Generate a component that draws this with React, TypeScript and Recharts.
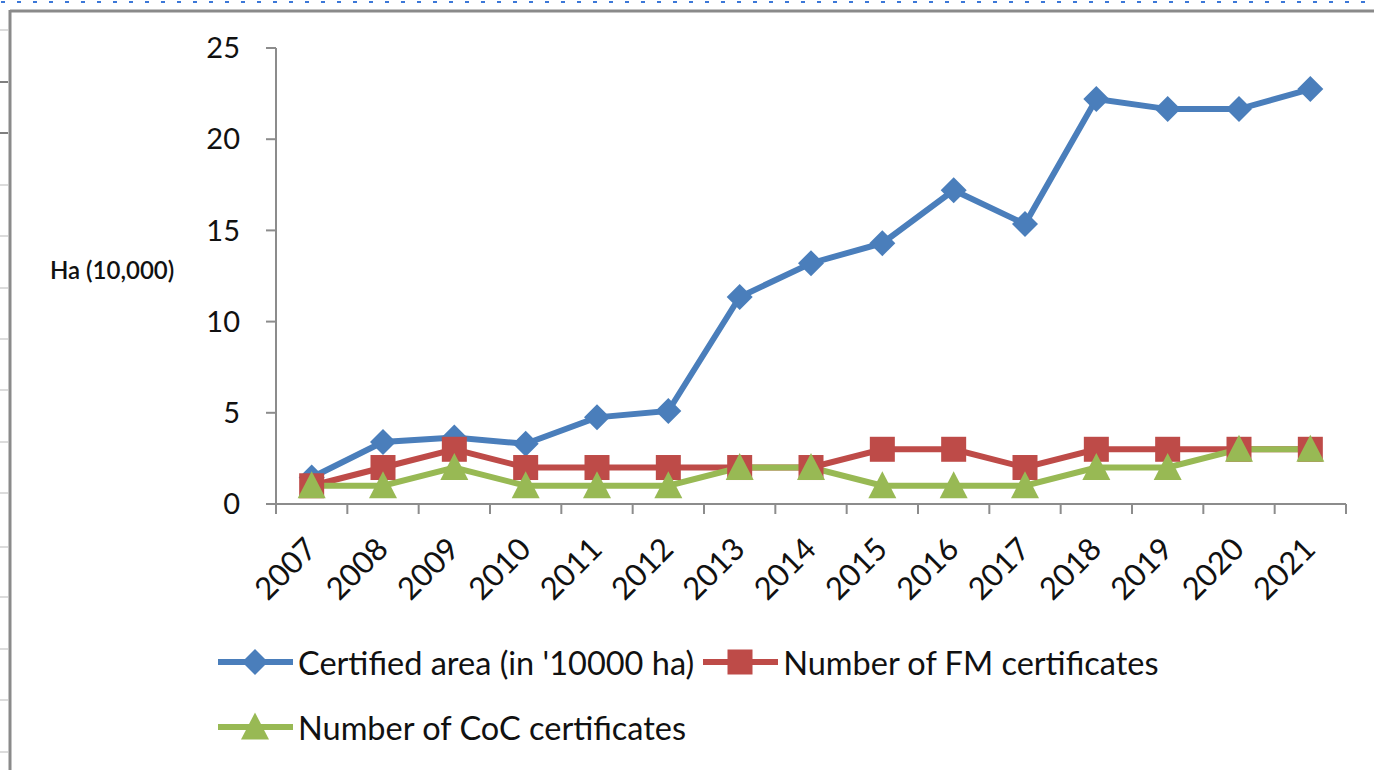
import React from 'react';
import { LineChart, Line, XAxis, YAxis, Legend } from 'recharts';

const years = ['2007', '2008', '2009', '2010', '2011', '2012', '2013', '2014', '2015', '2016', '2017', '2018', '2019', '2020', '2021'];
const certifiedArea = [1.45, 3.4, 3.65, 3.3, 4.75, 5.1, 11.35, 13.2, 14.3, 17.2, 15.35, 22.2, 21.65, 21.65, 22.75];
const fmCertificates = [1, 2, 3, 2, 2, 2, 2, 2, 3, 3, 2, 3, 3, 3, 3];
const cocCertificates = [1, 1, 2, 1, 1, 1, 2, 2, 1, 1, 1, 2, 2, 3, 3];
const yTicks = [0, 5, 10, 15, 20, 25];
const yLabel = 'Ha (10,000)';
const seriesNames = {
  area: "Certified area (in '10000 ha)",
  fm: 'Number of FM certificates',
  coc: 'Number of CoC certificates',
};

const data = years.map((y, i) => ({
  idx: i,
  year: y,
  area: certifiedArea[i],
  fm: fmCertificates[i],
  coc: cocCertificates[i],
}));

// tick positions: category centres (labels) and category boundaries (tick marks)
const xTicks: number[] = [];
for (let i = 0; i <= years.length; i++) {
  xTicks.push(i - 0.5);
  if (i < years.length) xTicks.push(i);
}

const BLUE = '#4A7EBB';
const RED = '#BE4B48';
const GREEN = '#98B954';
const FONT = 'Lato, "Open Sans", sans-serif';

const Marker = ({ cx, cy, type, fill }: any) => {
  if (type === 'diamond') {
    const r = 13;
    return <path d={`M${cx},${cy - r}L${cx + r},${cy}L${cx},${cy + r}L${cx - r},${cy}Z`} fill={fill} />;
  }
  if (type === 'square') {
    const s = 12.5;
    return <rect x={cx - s} y={cy - s} width={s * 2} height={s * 2} fill={fill} />;
  }
  const w = 14;
  const h = 25;
  return <path d={`M${cx},${cy - h / 2 - 2}L${cx + w},${cy + h / 2}L${cx - w},${cy + h / 2}Z`} fill={fill} />;
};

const series = [
  { key: 'area', color: BLUE, marker: 'diamond' },
  { key: 'fm', color: RED, marker: 'square' },
  { key: 'coc', color: GREEN, marker: 'triangle' },
];

const XTick = (props: any) => {
  const { x, y, payload } = props;
  const v = payload.value;
  if (Math.abs(v - Math.round(v)) > 0.01) {
    return <line x1={x} y1={y} x2={x} y2={y + 10} stroke="#8c8c8c" strokeWidth={2} />;
  }
  const label = years[Math.round(v)];
  const tx = x + 7;
  const ty = y + 47;
  return (
    <text x={tx} y={ty} textAnchor="end" transform={`rotate(-45, ${tx}, ${ty})`} fontSize={31} fontFamily={FONT} fill="#111">
      {label}
    </text>
  );
};

const renderLegend = (props: any) => {
  const payload = [...(props.payload || [])].sort(
    (a: any, b: any) => series.findIndex((s) => s.key === a.dataKey) - series.findIndex((s) => s.key === b.dataKey)
  );
  return (
    <div
      style={{
        width: 1374,
        height: 150,
        boxSizing: 'border-box',
        paddingLeft: 218,
        paddingTop: 32,
        display: 'flex',
        flexWrap: 'wrap',
        alignContent: 'flex-start',
        rowGap: 25,
      }}
    >
      {payload.map((entry: any) => {
        const s = series.find((d) => d.key === entry.dataKey) || series[0];
        return (
          <div key={entry.dataKey} style={{ display: 'flex', alignItems: 'center', height: 40, marginRight: 9 }}>
            <svg width={75} height={30} style={{ overflow: 'visible' }}>
              <line x1={0} y1={15} x2={75} y2={15} stroke={s.color} strokeWidth={6} />
              <Marker cx={37} cy={15} type={s.marker} fill={s.color} />
            </svg>
            <span style={{ marginLeft: 5, fontSize: 32.5, fontFamily: FONT, color: '#111', whiteSpace: 'nowrap' }}>
              {entry.value}
            </span>
          </div>
        );
      })}
    </div>
  );
};

const leftMarks = [30, 82, 133, 185, 236, 288, 339, 390, 442, 493, 547, 597, 649, 700, 752];

export default function App() {
  const dashes: number[] = [];
  for (let x = 1; x < 1374; x += 16) dashes.push(x);
  return (
    <div style={{ position: 'absolute', left: 0, top: 0, width: 1374, height: 770, background: '#fff', overflow: 'hidden' }}>
      <svg width={1374} height={770} style={{ position: 'absolute', left: 0, top: 0 }}>
        {dashes.map((x) => (
          <line key={x} x1={x} y1={2} x2={x + 4} y2={2} stroke="#3C78D8" strokeWidth={2} />
        ))}
        {leftMarks.map((y, i) => (
          <line key={y} x1={0} y1={y} x2={8} y2={y} stroke={i === 1 || i === 2 ? '#555' : '#d0d0d0'} strokeWidth={1.5} />
        ))}
        <line x1={10} y1={11} x2={1374} y2={11} stroke="#8a8a8a" strokeWidth={3} />
        <line x1={10} y1={10} x2={10} y2={770} stroke="#8a8a8a" strokeWidth={3} />
      </svg>
      <div style={{ position: 'absolute', left: 0, top: 0 }}>
        <LineChart width={1374} height={770} data={data} margin={{ top: 48, right: 28, left: 10, bottom: 10 }}>
          <XAxis
            dataKey="idx"
            type="number"
            domain={[-0.5, years.length - 0.5]}
            ticks={xTicks}
            interval={0}
            tickSize={0}
            tickMargin={0}
            tickLine={false}
            tick={<XTick />}
            height={106}
            axisLine={{ stroke: '#8c8c8c', strokeWidth: 2 }}
          />
          <YAxis
            domain={[0, 25]}
            ticks={yTicks}
            interval={0}
            width={266}
            tickSize={10}
            tickMargin={26}
            tick={{ fontSize: 29, fontFamily: FONT, fill: '#111' }}
            tickLine={{ stroke: '#8c8c8c', strokeWidth: 2 }}
            axisLine={{ stroke: '#8c8c8c', strokeWidth: 2 }}
            label={{
              value: yLabel,
              position: 'insideLeft',
              offset: 40,
              style: { fontSize: 24, fontFamily: FONT, fill: '#111', fontWeight: 600, textAnchor: 'start' },
              dy: -6,
            }}
          />
          <Legend content={renderLegend} verticalAlign="bottom" wrapperStyle={{ left: 0, bottom: 10, width: 1374 }} />
          {series.map((s) => (
            <Line
              key={s.key}
              dataKey={s.key}
              name={(seriesNames as any)[s.key]}
              stroke={s.color}
              strokeWidth={6}
              isAnimationActive={false}
              activeDot={false}
              dot={(p: any) => <Marker key={`${s.key}-${p.index}`} cx={p.cx} cy={p.cy} type={s.marker} fill={s.color} />}
            />
          ))}
        </LineChart>
      </div>
    </div>
  );
}
